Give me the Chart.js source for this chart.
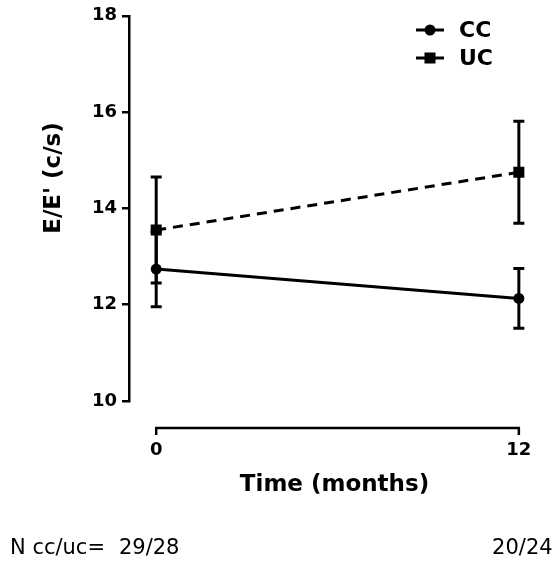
<!DOCTYPE html>
<html><head><meta charset="utf-8">
<script src="https://cdn.jsdelivr.net/npm/chart.js@4.4.0/dist/chart.umd.min.js"></script>
<style>html,body{margin:0;padding:0;background:#fff}canvas{display:block}</style>
</head><body>
<canvas id="c" width="555" height="568"></canvas>
<script>
const timePoints = [0, 12];
const xTickLabels = ['0', '12'];
const yTicks = [10, 12, 14, 16, 18];
const seriesNames = ['CC', 'UC'];
const ccMean = [12.74, 12.13];
const ccErr = [0.78, 0.62];
const ucMean = [13.55, 14.75];
const ucErr = [1.10, 1.06];
const nPrefix = 'N cc/uc=';
const nLabels = ['29/28', '20/24'];
const xTitle = 'Time (months)';
const yTitle = "E/E' (c/s)";

const FONT = '"DejaVu Sans", sans-serif';
const errs = [ccErr, ucErr];

const extras = {
  id: 'extras',
  beforeDatasetsDraw(chart) {
    const ctx = chart.ctx, xs = chart.scales.x, ys = chart.scales.y;
    ctx.save();
    ctx.strokeStyle = '#000';
    ctx.lineWidth = 3;
    ctx.lineCap = 'butt';
    chart.data.datasets.forEach((ds, di) => {
      ds.data.forEach((p, i) => {
        const e = errs[di][i];
        const px = xs.getPixelForValue(p.x);
        const yt = ys.getPixelForValue(p.y + e);
        const yb = ys.getPixelForValue(p.y - e);
        ctx.beginPath();
        ctx.moveTo(px, yt); ctx.lineTo(px, yb);
        ctx.moveTo(px - 5.5, yt); ctx.lineTo(px + 5.5, yt);
        ctx.moveTo(px - 5.5, yb); ctx.lineTo(px + 5.5, yb);
        ctx.stroke();
      });
    });
    ctx.restore();
  },
  afterDraw(chart) {
    const ctx = chart.ctx, xs = chart.scales.x, ys = chart.scales.y;
    ctx.save();
    // detached x axis line
    const ay = 428;
    const x0 = xs.getPixelForValue(timePoints[0]);
    const x1 = xs.getPixelForValue(timePoints[timePoints.length - 1]);
    ctx.strokeStyle = '#000';
    ctx.lineWidth = 2.5;
    ctx.beginPath();
    ctx.moveTo(x0, ay); ctx.lineTo(x1, ay);
    timePoints.forEach(t => {
      const px = xs.getPixelForValue(t);
      ctx.moveTo(px, ay - 1.25); ctx.lineTo(px, ay + 7);
    });
    ctx.stroke();

    // y title
    ctx.fillStyle = '#000';
    ctx.font = 'bold 23px ' + FONT;
    ctx.textAlign = 'center';
    ctx.textBaseline = 'middle';
    ctx.save();
    ctx.translate(54, 178);
    ctx.rotate(-Math.PI / 2);
    ctx.fillText(yTitle, 0, 0);
    ctx.restore();

    // legend
    const lx = 416, lw = 28;
    chart.data.datasets.forEach((ds, i) => {
      const ly = 30 + i * 28;
      ctx.lineWidth = 3;
      ctx.setLineDash([]);
      ctx.beginPath();
      ctx.moveTo(lx, ly); ctx.lineTo(lx + lw, ly);
      ctx.stroke();
      ctx.fillStyle = '#000';
      if (ds.pointStyle === 'rect') {
        ctx.fillRect(lx + lw / 2 - 5.5, ly - 5.5, 11, 11);
      } else {
        ctx.beginPath(); ctx.arc(lx + lw / 2, ly, 5.5, 0, Math.PI * 2); ctx.fill();
      }
      ctx.font = 'bold 22px ' + FONT;
      ctx.textAlign = 'left';
      ctx.fillText(ds.label, 459, ly + 1);
    });

    // N counts
    ctx.font = '21px ' + FONT;
    ctx.textAlign = 'left';
    ctx.fillText(nPrefix, 10, 549);
    const offs = [-7, 3.5];
    ctx.textAlign = 'center';
    timePoints.forEach((t, i) => {
      ctx.fillText(nLabels[i], xs.getPixelForValue(t) + offs[i], 549);
    });
    ctx.restore();
  }
};

new Chart(document.getElementById('c'), {
  type: 'line',
  data: {
    datasets: [
      {
        label: seriesNames[0],
        data: timePoints.map((t, i) => ({ x: t, y: ccMean[i] })),
        borderColor: '#000', backgroundColor: '#000', borderWidth: 3,
        pointStyle: 'circle', pointRadius: 5.5, pointBorderWidth: 0,
        pointBackgroundColor: '#000', fill: false, tension: 0
      },
      {
        label: seriesNames[1],
        data: timePoints.map((t, i) => ({ x: t, y: ucMean[i] })),
        borderColor: '#000', backgroundColor: '#000', borderWidth: 3,
        borderDash: [10, 7],
        pointStyle: 'rect', pointRadius: 7.8, pointBorderWidth: 0,
        pointBackgroundColor: '#000', fill: false, tension: 0
      }
    ]
  },
  options: {
    responsive: false,
    animation: false,
    events: [],
    layout: { padding: { top: 15, right: 15, left: 0, bottom: 0 } },
    plugins: { legend: { display: false }, tooltip: { enabled: false } },
    scales: {
      x: {
        type: 'linear', min: -0.9, max: 12.7,
        afterBuildTicks: s => { s.ticks = timePoints.map(v => ({ value: v })); },
        afterFit: s => { s.height = 167; s.paddingLeft = 0; s.paddingRight = 0; },
        ticks: {
          callback: v => xTickLabels[timePoints.indexOf(v)],
          font: { family: FONT, size: 18, weight: 'bold' },
          color: '#000', padding: 39, maxRotation: 0, autoSkip: false
        },
        grid: { display: false, drawTicks: false },
        border: { display: false },
        title: {
          display: true, text: xTitle, color: '#000',
          font: { family: FONT, size: 23, weight: 'bold' },
          padding: { top: 0, bottom: 69 }
        }
      },
      y: {
        min: 10, max: 18,
        afterBuildTicks: s => { s.ticks = yTicks.map(v => ({ value: v })); },
        afterFit: s => { s.width = 129; },
        ticks: {
          font: { family: FONT, size: 18, weight: 'bold' },
          color: '#000', padding: 5
        },
        grid: {
          drawOnChartArea: false, drawTicks: true, tickLength: 7,
          tickColor: '#000', tickWidth: 2.5, color: '#000', lineWidth: 2.5
        },
        border: { display: true, color: '#000', width: 2.5 }
      }
    }
  },
  plugins: [extras]
});
</script>
</body></html>
